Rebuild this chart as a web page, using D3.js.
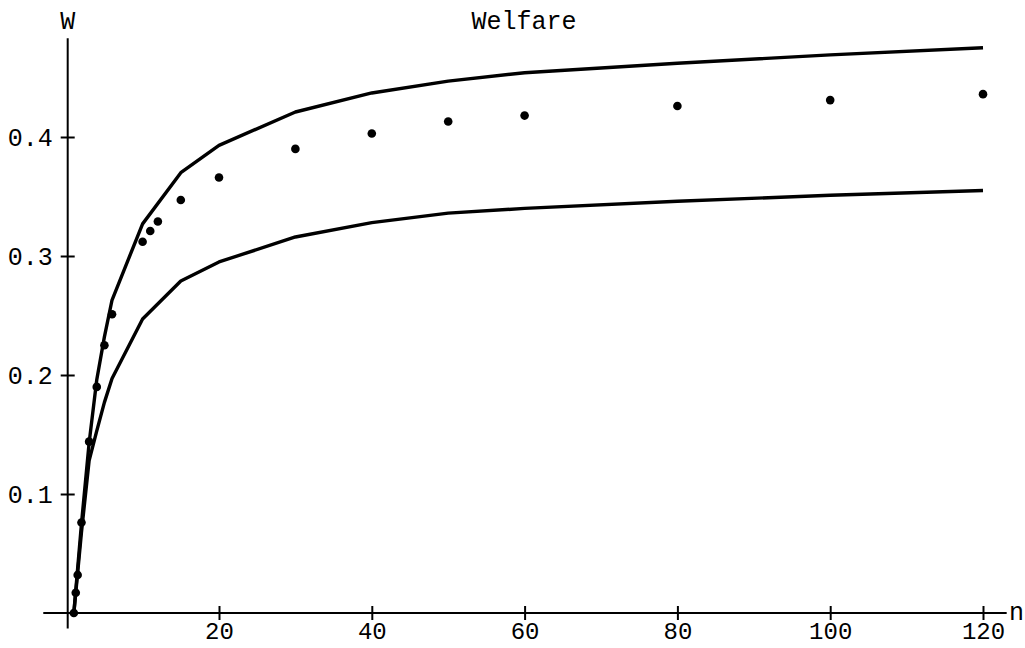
<!DOCTYPE html>
<html>
<head>
<meta charset="utf-8">
<script src="https://cdn.jsdelivr.net/npm/d3@7"></script>
<style>
  html, body { margin: 0; padding: 0; background: #fff; }
  svg { display: block; }
  text { font-family: "Liberation Mono", "Courier New", monospace; fill: #000; }
</style>
</head>
<body>
<svg id="chart" width="1025" height="648"></svg>
<script>
// ---- data ----
const title = "Welfare";
const xLabel = "n";
const yLabel = "W";
const xTicks = [20, 40, 60, 80, 100, 120];
const yTicks = [0.1, 0.2, 0.3, 0.4];

const upperN = [1, 2, 3, 4, 5, 6, 10, 15, 20, 30, 40, 50, 60, 80, 100, 120];
const upperW = [0, 0.075, 0.143, 0.196, 0.232, 0.263, 0.327, 0.370, 0.393, 0.421, 0.437, 0.447, 0.454, 0.462, 0.469, 0.475];

const lowerN = [1, 2, 3, 4, 5, 6, 10, 15, 20, 30, 40, 50, 60, 80, 100, 120];
const lowerW = [0, 0.068, 0.128, 0.153, 0.177, 0.197, 0.247, 0.279, 0.295, 0.316, 0.328, 0.336, 0.340, 0.346, 0.351, 0.355];

const dotN = [1, 1.25, 1.5, 2, 3, 4, 5, 6, 10, 11, 12, 15, 20, 30, 40, 50, 60, 80, 100, 120];
const dotW = [0, 0.017, 0.032, 0.076, 0.144, 0.190, 0.225, 0.251, 0.312, 0.321, 0.329, 0.347, 0.366, 0.390, 0.403, 0.413, 0.418, 0.426, 0.431, 0.436];

// ---- chart ----
const svg = d3.select("#chart");
const x = d3.scaleLinear().domain([0, 120]).range([66.2, 983]);
const y = d3.scaleLinear().domain([0, 0.4]).range([613, 137]);

const fs = 25;
const axisColor = "#000";

const xAxisG = svg.append("g").attr("transform", `translate(0,${y(0)})`)
  .call(d3.axisBottom(x).tickValues(xTicks).tickSize(7).tickPadding(2).tickFormat(d3.format("d")));
xAxisG.select(".domain").remove();
xAxisG.selectAll(".tick line").attr("y1", -7).attr("y2", 7).attr("stroke", axisColor).attr("stroke-width", 2);
xAxisG.selectAll(".tick text").attr("font-size", 24).attr("font-family", "Liberation Mono").attr("fill", "#000");
xAxisG.append("line").attr("x1", x(-3.0)).attr("x2", x(123.1)).attr("y1", 0).attr("y2", 0)
  .attr("stroke", axisColor).attr("stroke-width", 2);

const yAxisG = svg.append("g").attr("transform", `translate(${x(0) + 1.5},0)`)
  .call(d3.axisLeft(y).tickValues(yTicks).tickSize(7).tickPadding(8).tickFormat(d3.format(".1f")));
yAxisG.select(".domain").remove();
yAxisG.selectAll(".tick line").attr("x1", -7).attr("x2", 7).attr("stroke", axisColor).attr("stroke-width", 2);
yAxisG.selectAll(".tick text").attr("font-size", fs).attr("font-family", "Liberation Mono").attr("fill", "#000");
yAxisG.append("line").attr("x1", 0).attr("x2", 0).attr("y1", y(-0.013)).attr("y2", y(0.483))
  .attr("stroke", axisColor).attr("stroke-width", 2);

// lines
const line = d3.line().x(d => x(d[0])).y(d => y(d[1]));
const upper = upperN.map((n, i) => [n, upperW[i]]);
const lower = lowerN.map((n, i) => [n, lowerW[i]]);
const dots = dotN.map((n, i) => [n, dotW[i]]);

svg.append("path").datum(upper).attr("d", line)
  .attr("fill", "none").attr("stroke", "#000").attr("stroke-width", 3.4).attr("stroke-linejoin", "round");
svg.append("path").datum(lower).attr("d", line)
  .attr("fill", "none").attr("stroke", "#000").attr("stroke-width", 3.4).attr("stroke-linejoin", "round");

svg.append("g").selectAll("circle").data(dots).join("circle")
  .attr("cx", d => x(d[0])).attr("cy", d => y(d[1])).attr("r", 4.3).attr("fill", "#000");

// titles & axis labels
svg.append("text").attr("x", 524).attr("y", 22).attr("text-anchor", "middle")
  .attr("dominant-baseline", "central").attr("font-size", fs).text(title);
svg.append("text").attr("x", x(0) + 1.5).attr("y", 22).attr("text-anchor", "middle")
  .attr("dominant-baseline", "central").attr("font-size", fs).text(yLabel);
svg.append("text").attr("x", 1009).attr("y", y(0) + 7).attr("text-anchor", "start")
  .attr("font-size", fs).text(xLabel);
</script>
</body>
</html>
